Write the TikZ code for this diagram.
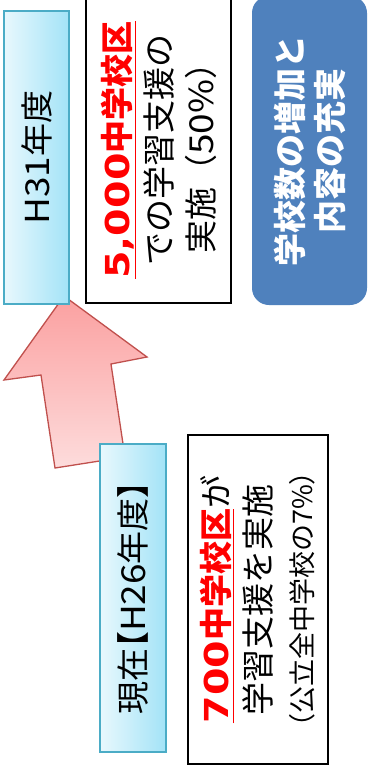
\documentclass[tikz,border=0pt]{standalone}
\usepackage{graphicx}
\usepackage{fontspec}
\newfontfamily\jp{Noto Sans CJK JP}
\newfontfamily\jpp[RawFeature=+palt]{Noto Sans CJK JP}
\newfontfamily\dvs{DejaVu Sans}
\definecolor{cyanlight}{HTML}{E8F8FD}
\definecolor{cyandark}{HTML}{A3E3F7}
\definecolor{cyanedge}{HTML}{4BACC6}
\definecolor{blueA}{HTML}{4F81BD}
\definecolor{pinkA}{HTML}{FBA0A0}
\definecolor{pinkB}{HTML}{FDDCDC}
\definecolor{redline}{HTML}{C0504D}
\definecolor{redtext}{HTML}{FF0000}
\tikzset{
  cyanbox/.style={draw=cyanedge, line width=1.5pt, left color=cyanlight, right color=cyandark, rotate=90, inner sep=0pt, font=\jp\fontsize{33}{42}\selectfont},
  textbox/.style={draw=black, line width=1.8pt, fill=white, rotate=90, inner sep=0pt, align=center, font=\jp\fontsize{33}{42}\selectfont},
  bluebox/.style={fill=blueA, rounded corners=17pt, rotate=90, inner sep=0pt, align=center, text=white, font=\jp\bfseries\fontsize{33}{40}\selectfont},
  arrowshape/.style={draw=redline, line width=1.3pt, top color=pinkA, bottom color=pinkB}
}
\newcommand{\widedigits}[1]{\scalebox{1.2}[1]{\dvs\bfseries #1}}
\newcommand{\widerom}[1]{\scalebox{1.12}[1]{#1}}
\newcommand{\redul}[1]{\textcolor{redtext}{\bfseries\underline{#1}}}
\newcommand{\pk}[1]{{\jpp #1}}
\begin{document}
\begin{tikzpicture}[x=1pt,y=-1pt]
\useasboundingbox (0,0) rectangle (374,765);
\fill[white] (0,0) rectangle (374,765);
% arrow
\coordinate (tip) at (64,296);
\coordinate (rh) at (147,357);
\coordinate (rst) at (111,364);
\coordinate (rsb) at (125,457);
\coordinate (lsb) at (55,468);
\coordinate (lst) at (41,375);
\coordinate (lh) at (4,380);
\draw[arrowshape] (tip) -- (rh) -- (rst) -- (rsb) -- (lsb) -- (lst) -- (lh) -- cycle;
% boxes
\node[cyanbox, minimum width=293pt, minimum height=65pt] (h31) at (36.5,157.5) {\widerom{H31}年度};
\node[textbox, minimum width=306pt, minimum height=145pt] (b5000) at (158.5,150) {\redul{\widedigits{5,000}中学校区}\\での学習支援の\\実施（\widerom{50\%}）};
\node[bluebox, minimum width=309pt, minimum height=115pt] (goal) at (309.5,150.5) {学校数の増加と\\内容の充実};
\node[cyanbox, minimum width=308pt, minimum height=66pt] (h26) at (133,598) {現在\pk{【}\widerom{H26}年度\pk{】}};
\node[textbox, minimum width=329pt, minimum height=140pt] (b700) at (258,599.5) {\redul{\widedigits{700}中学校区}が\\学習支援を実施\\{\fontsize{27}{34}\selectfont（公立全中学校の7\%）}};
\end{tikzpicture}
\end{document}
